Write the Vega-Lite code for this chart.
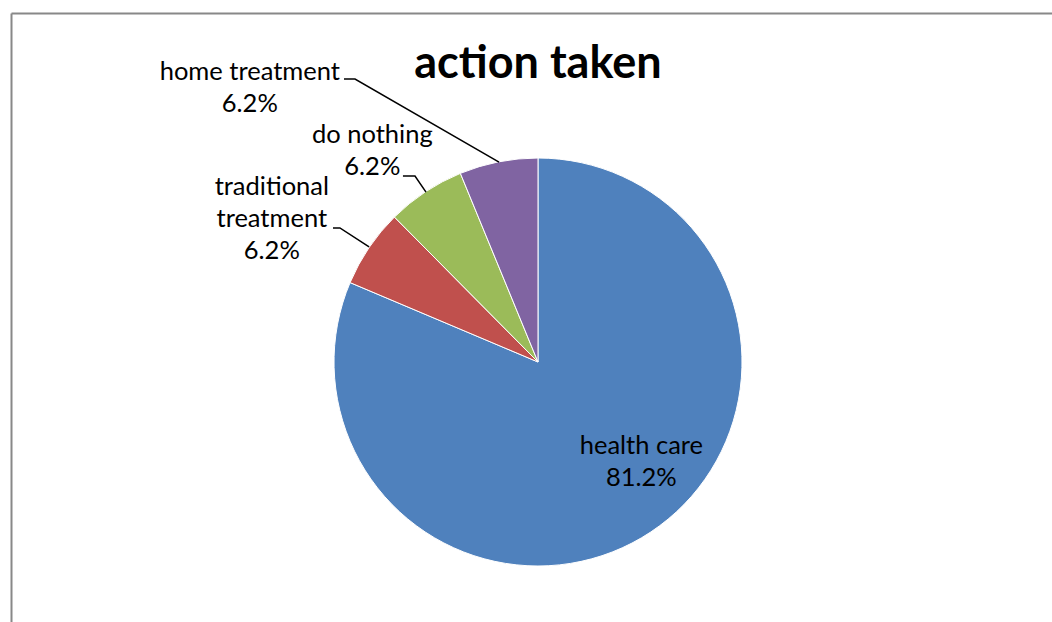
{
  "$schema": "https://vega.github.io/schema/vega-lite/v6.json",
  "autosize": {"type": "none"},
  "padding": {"left": 11, "top": 13, "right": 0, "bottom": 0},
  "width": 1041,
  "height": 609,
  "background": "white",
  "config": {"view": {"stroke": null}},
  "datasets": {
    "slices": [
      {"category": "health care", "value": 81.2, "order": 1, "label": "health care\n81.2%"},
      {"category": "traditional treatment", "value": 6.2, "order": 2, "label": "traditional\ntreatment\n6.2%"},
      {"category": "do nothing", "value": 6.2, "order": 3, "label": "do nothing\n6.2%"},
      {"category": "home treatment", "value": 6.2, "order": 4, "label": "home treatment\n6.2%"}
    ],
    "leaders": [
      {"category": "home treatment", "step": 1, "x": -0.951, "y": 1.387},
      {"category": "home treatment", "step": 2, "x": -0.897, "y": 1.387},
      {"category": "home treatment", "step": 3, "x": -0.191, "y": 0.98},
      {"category": "do nothing", "step": 1, "x": -0.662, "y": 0.912},
      {"category": "do nothing", "step": 2, "x": -0.603, "y": 0.912},
      {"category": "do nothing", "step": 3, "x": -0.549, "y": 0.833},
      {"category": "traditional treatment", "step": 1, "x": -1.005, "y": 0.657},
      {"category": "traditional treatment", "step": 2, "x": -0.971, "y": 0.657},
      {"category": "traditional treatment", "step": 3, "x": -0.828, "y": 0.564}
    ],
    "heading": [{"text": "action taken"}]
  },
  "layer": [
    {
      "data": {"name": "slices"},
      "mark": {"type": "arc", "outerRadius": 204, "stroke": "white", "strokeWidth": 1},
      "encoding": {
        "x": {"datum": 0, "type": "quantitative", "scale": {"domain": [-2.5833, 2.5196], "nice": false, "zero": false},
          "axis": {"orient": "top", "domain": true, "domainColor": "#888888", "domainWidth": 2, "ticks": false, "labels": false, "grid": false, "title": null}},
        "y": {"datum": 0, "type": "quantitative", "scale": {"domain": [-1.2745, 1.7108], "nice": false, "zero": false},
          "axis": {"orient": "left", "domain": true, "domainColor": "#888888", "domainWidth": 2, "ticks": false, "labels": false, "grid": false, "title": null}},
        "theta": {"field": "value", "type": "quantitative", "stack": true},
        "order": {"field": "order", "type": "quantitative"},
        "color": {"field": "category", "type": "nominal", "legend": null,
          "scale": {"domain": ["health care", "traditional treatment", "do nothing", "home treatment"],
                    "range": ["#4F81BD", "#C0504D", "#9BBB59", "#8064A2"]}}
      }
    },
    {
      "data": {"name": "leaders"},
      "mark": {"type": "line", "color": "black", "strokeWidth": 1.5},
      "encoding": {
        "x": {"field": "x", "type": "quantitative"},
        "y": {"field": "y", "type": "quantitative"},
        "detail": {"field": "category"},
        "order": {"field": "step", "type": "quantitative"}
      }
    },
    {
      "data": {"name": "slices"},
      "mark": {"type": "text", "radius": 300, "dx": -230, "dy": 4, "font": "Lato", "fontSize": 25.5, "lineHeight": 32, "lineBreak": "\n", "align": "center", "baseline": "middle", "color": "black"},
      "encoding": {
        "x": {"datum": 0, "type": "quantitative"},
        "y": {"datum": 0, "type": "quantitative"},
        "theta": {"field": "value", "type": "quantitative", "stack": true},
        "order": {"field": "order", "type": "quantitative"},
        "text": {"condition": {"test": "datum.category === 'home treatment'", "field": "label"}, "value": ""}
      }
    },
    {
      "data": {"name": "slices"},
      "mark": {"type": "text", "radius": 260, "dx": -22, "dy": -10, "font": "Lato", "fontSize": 25.5, "lineHeight": 32, "lineBreak": "\n", "align": "center", "baseline": "middle", "color": "black"},
      "encoding": {
        "x": {"datum": 0, "type": "quantitative"},
        "y": {"datum": 0, "type": "quantitative"},
        "theta": {"field": "value", "type": "quantitative", "stack": true},
        "order": {"field": "order", "type": "quantitative"},
        "text": {"condition": {"test": "datum.category === 'do nothing'", "field": "label"}, "value": ""}
      }
    },
    {
      "data": {"name": "slices"},
      "mark": {"type": "text", "radius": 290, "dx": -26, "dy": -12, "font": "Lato", "fontSize": 25.5, "lineHeight": 32, "lineBreak": "\n", "align": "center", "baseline": "middle", "color": "black"},
      "encoding": {
        "x": {"datum": 0, "type": "quantitative"},
        "y": {"datum": 0, "type": "quantitative"},
        "theta": {"field": "value", "type": "quantitative", "stack": true},
        "order": {"field": "order", "type": "quantitative"},
        "text": {"condition": {"test": "datum.category === 'traditional treatment'", "field": "label"}, "value": ""}
      }
    },
    {
      "data": {"name": "slices"},
      "mark": {"type": "text", "radius": 140, "dx": 26, "dy": -33, "font": "Lato", "fontSize": 25.5, "lineHeight": 32, "lineBreak": "\n", "align": "center", "baseline": "middle", "color": "black"},
      "encoding": {
        "x": {"datum": 0, "type": "quantitative"},
        "y": {"datum": 0, "type": "quantitative"},
        "theta": {"field": "value", "type": "quantitative", "stack": true},
        "order": {"field": "order", "type": "quantitative"},
        "text": {"condition": {"test": "datum.category === 'health care'", "field": "label"}, "value": ""}
      }
    },
    {
      "data": {"name": "heading"},
      "mark": {"type": "text", "font": "Lato", "fontWeight": "bold", "fontSize": 45, "align": "center", "baseline": "alphabetic", "color": "black"},
      "encoding": {
        "x": {"datum": 0, "type": "quantitative"},
        "y": {"datum": 1.392, "type": "quantitative"},
        "text": {"field": "text"}
      }
    }
  ]
}
